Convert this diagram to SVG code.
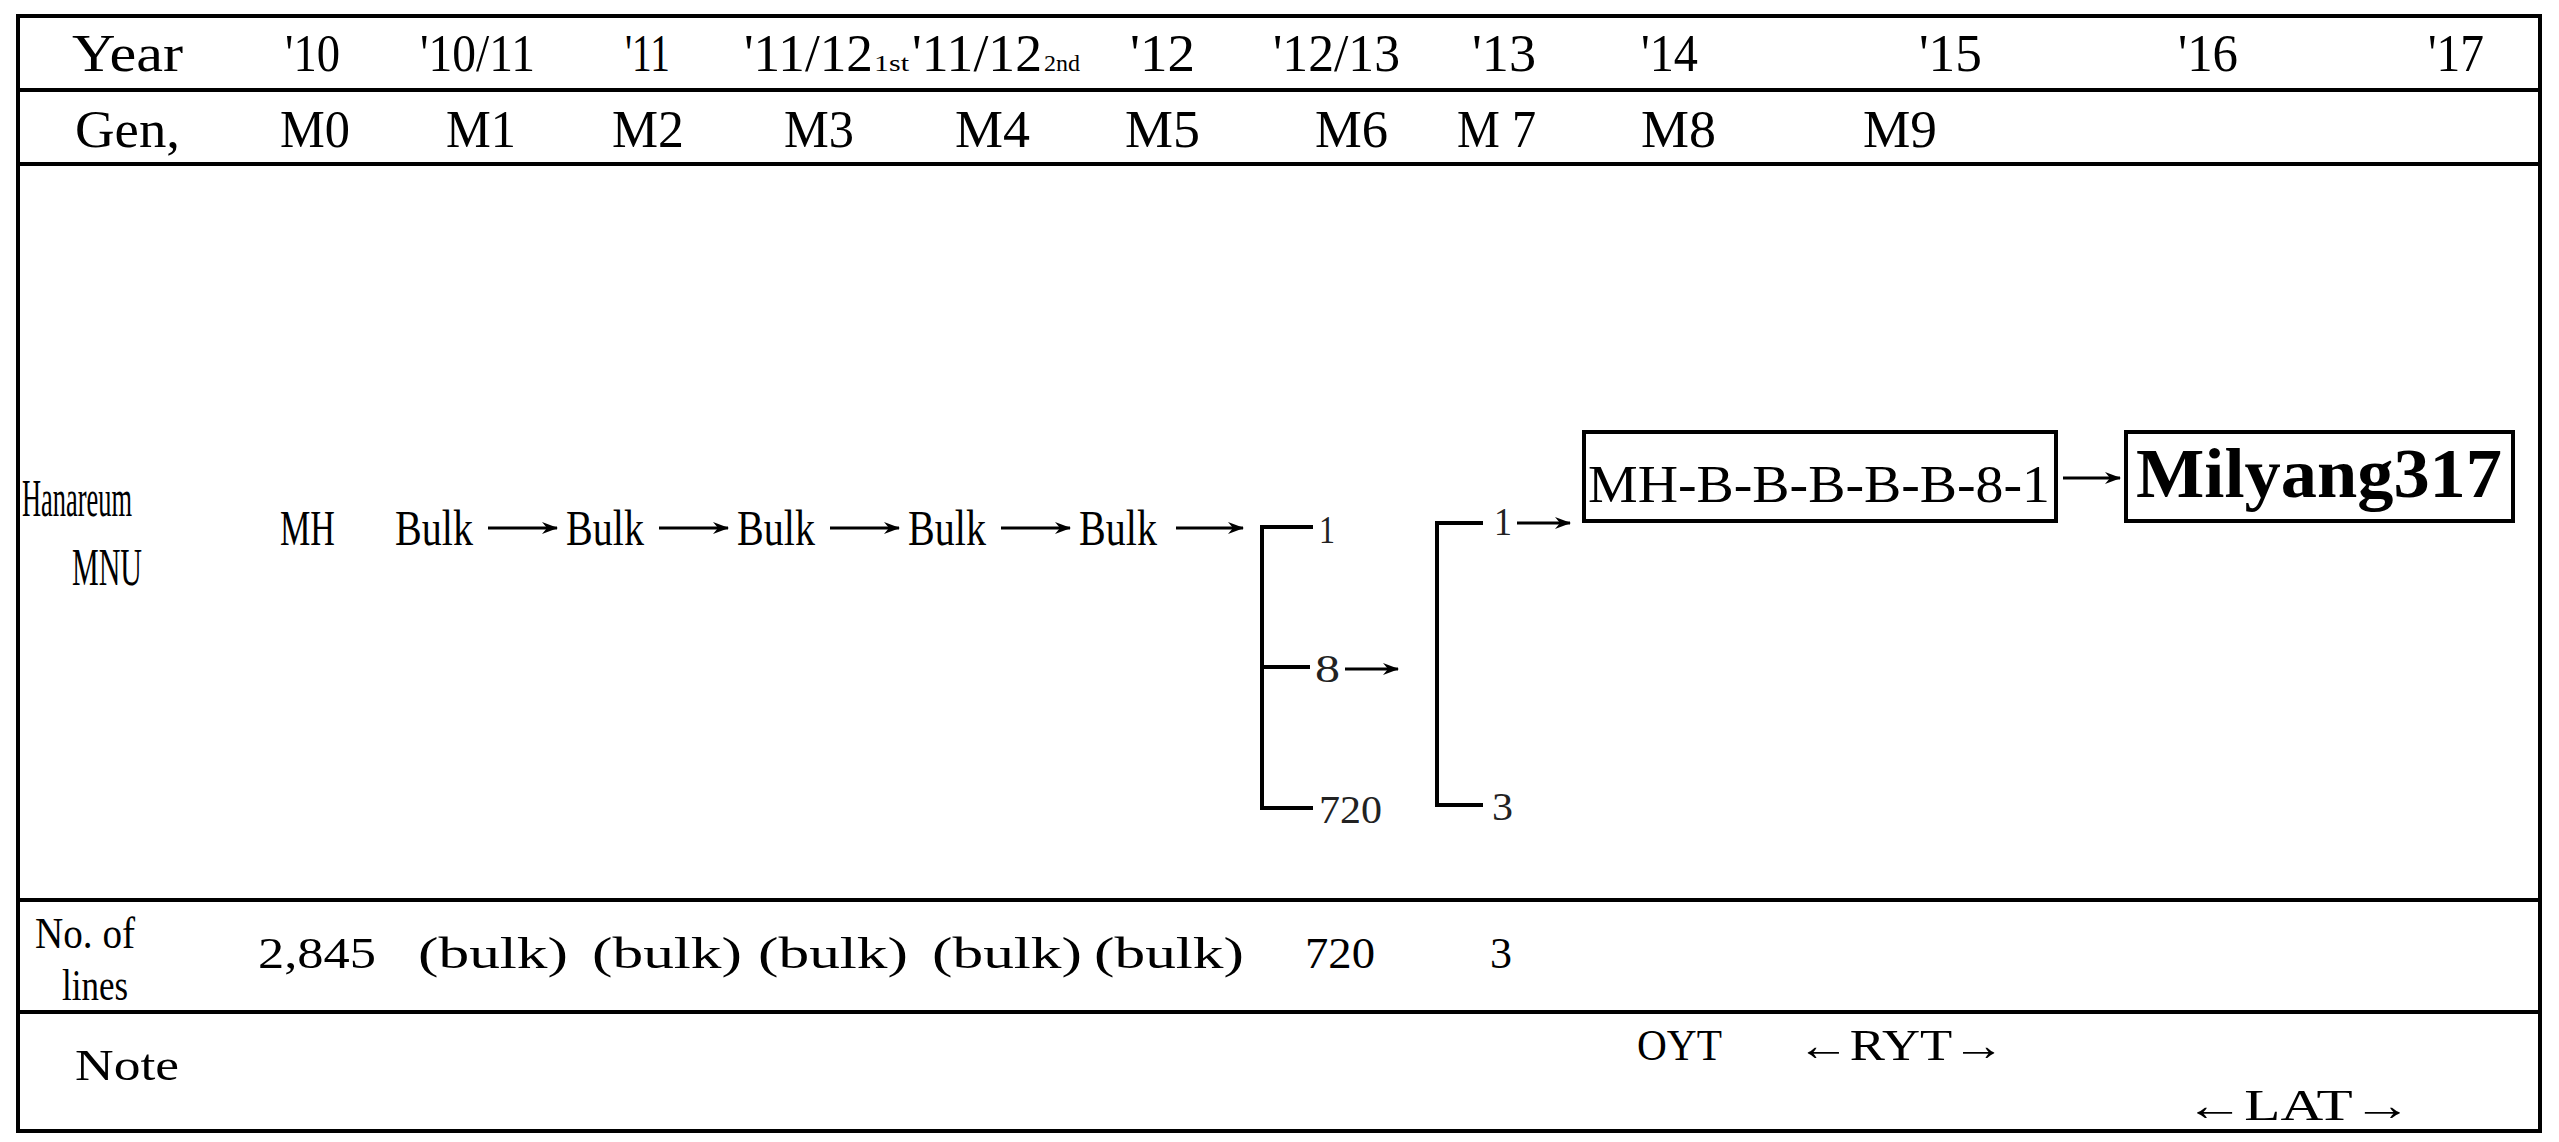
<svg xmlns="http://www.w3.org/2000/svg" width="2559" height="1142" viewBox="0 0 2559 1142">
<style>
.t{font-family:"Liberation Serif","DejaVu Serif",serif;font-size:52px;fill:#000}
.m{font-family:"Liberation Serif","DejaVu Serif",serif;font-size:50px;fill:#000}
.s{font-family:"Liberation Serif","DejaVu Serif",serif;font-size:24px;fill:#000}
.n{font-family:"Liberation Serif","DejaVu Serif",serif;font-size:40px;fill:#222}
.b{font-family:"Liberation Serif","DejaVu Serif",serif;font-size:44px;fill:#000}
.bx{fill:none;stroke:#000;stroke-width:4}
.grid{stroke:#000;stroke-width:4;fill:none}
.c{stroke:#000;stroke-width:3;fill:none}
.br{stroke:#000;stroke-width:4;fill:none}
</style>
<defs>
<marker id="ah" markerUnits="userSpaceOnUse" markerWidth="16" markerHeight="14" refX="15" refY="7" orient="auto">
<path d="M0,1 L16,7 L0,13 L5,7 z" fill="#000"/>
</marker>
</defs>
<rect width="2559" height="1142" fill="#fff"/>
<g id="table">
<rect class="grid" x="18" y="16" width="2522" height="1115"/>
<line class="grid" x1="18" y1="90" x2="2540" y2="90"/>
<line class="grid" x1="18" y1="164" x2="2540" y2="164"/>
<line class="grid" x1="18" y1="900" x2="2540" y2="900"/>
<line class="grid" x1="18" y1="1012" x2="2540" y2="1012"/>
</g>
<g id="row-year">
<text class="t" x="72" y="71" textLength="111" lengthAdjust="spacingAndGlyphs">Year</text>
<text class="t" x="285" y="71" textLength="55" lengthAdjust="spacingAndGlyphs">'10</text>
<text class="t" x="420" y="71" textLength="115" lengthAdjust="spacingAndGlyphs">'10/11</text>
<text class="t" x="625" y="71" textLength="45" lengthAdjust="spacingAndGlyphs">'11</text>
<text class="t" x="744" y="71" textLength="129" lengthAdjust="spacingAndGlyphs">'11/12</text>
<text class="s" x="874" y="71" textLength="35" lengthAdjust="spacingAndGlyphs">1st</text>
<text class="t" x="912" y="71" textLength="130" lengthAdjust="spacingAndGlyphs">'11/12</text>
<text class="s" x="1044" y="71" textLength="36" lengthAdjust="spacingAndGlyphs">2nd</text>
<text class="t" x="1130" y="71" textLength="65" lengthAdjust="spacingAndGlyphs">'12</text>
<text class="t" x="1273" y="71" textLength="127" lengthAdjust="spacingAndGlyphs">'12/13</text>
<text class="t" x="1472" y="71" textLength="64" lengthAdjust="spacingAndGlyphs">'13</text>
<text class="t" x="1641" y="71" textLength="57" lengthAdjust="spacingAndGlyphs">'14</text>
<text class="t" x="1919" y="71" textLength="63" lengthAdjust="spacingAndGlyphs">'15</text>
<text class="t" x="2178" y="71" textLength="60" lengthAdjust="spacingAndGlyphs">'16</text>
<text class="t" x="2428" y="71" textLength="56" lengthAdjust="spacingAndGlyphs">'17</text>
</g>
<g id="row-gen">
<text class="t" x="75" y="147" textLength="105" lengthAdjust="spacingAndGlyphs">Gen,</text>
<text class="t" x="280" y="147" textLength="70" lengthAdjust="spacingAndGlyphs">M0</text>
<text class="t" x="446" y="147" textLength="70" lengthAdjust="spacingAndGlyphs">M1</text>
<text class="t" x="612" y="147" textLength="72" lengthAdjust="spacingAndGlyphs">M2</text>
<text class="t" x="784" y="147" textLength="70" lengthAdjust="spacingAndGlyphs">M3</text>
<text class="t" x="955" y="147" textLength="75" lengthAdjust="spacingAndGlyphs">M4</text>
<text class="t" x="1125" y="147" textLength="75" lengthAdjust="spacingAndGlyphs">M5</text>
<text class="t" x="1315" y="147" textLength="73" lengthAdjust="spacingAndGlyphs">M6</text>
<text class="t" x="1457" y="147" textLength="79" lengthAdjust="spacingAndGlyphs">M 7</text>
<text class="t" x="1641" y="147" textLength="75" lengthAdjust="spacingAndGlyphs">M8</text>
<text class="t" x="1863" y="147" textLength="74" lengthAdjust="spacingAndGlyphs">M9</text>
</g>
<g id="label-hanareum">
<text class="t" x="22" y="516" textLength="110" lengthAdjust="spacingAndGlyphs">Hanareum</text>
<text class="t" x="72" y="585" textLength="70" lengthAdjust="spacingAndGlyphs">MNU</text>
</g>
<g id="node-mh"><text class="m" x="280" y="545" textLength="55" lengthAdjust="spacingAndGlyphs">MH</text></g>
<g id="node-bulk1"><text class="m" x="395" y="545" textLength="78" lengthAdjust="spacingAndGlyphs">Bulk</text></g>
<g id="node-bulk2"><text class="m" x="566" y="545" textLength="78" lengthAdjust="spacingAndGlyphs">Bulk</text></g>
<g id="node-bulk3"><text class="m" x="737" y="545" textLength="78" lengthAdjust="spacingAndGlyphs">Bulk</text></g>
<g id="node-bulk4"><text class="m" x="908" y="545" textLength="78" lengthAdjust="spacingAndGlyphs">Bulk</text></g>
<g id="node-bulk5"><text class="m" x="1079" y="545" textLength="78" lengthAdjust="spacingAndGlyphs">Bulk</text></g>
<g id="node-m6">
<text class="n" x="1319" y="543" textLength="16" lengthAdjust="spacingAndGlyphs">1</text>
<text class="n" x="1315" y="682" textLength="25" lengthAdjust="spacingAndGlyphs">8</text>
<text class="n" x="1319" y="823" textLength="63" lengthAdjust="spacingAndGlyphs">720</text>
</g>
<g id="node-m7">
<text class="n" x="1494" y="535" textLength="18" lengthAdjust="spacingAndGlyphs">1</text>
<text class="n" x="1492" y="820" textLength="21" lengthAdjust="spacingAndGlyphs">3</text>
</g>
<g id="node-line">
<rect class="bx" x="1584" y="432" width="472" height="89"/>
<text class="t" x="1588" y="502" font-size="64" textLength="462" lengthAdjust="spacingAndGlyphs">MH-B-B-B-B-B-8-1</text>
</g>
<g id="node-milyang">
<rect class="bx" x="2126" y="432" width="387" height="89"/>
<text x="2136" y="497" font-family="'Liberation Serif','DejaVu Serif',serif" font-weight="bold" font-size="70" textLength="366" lengthAdjust="spacingAndGlyphs">Milyang317</text>
</g>
<g id="connectors">
<line class="c" x1="488" y1="528" x2="557" y2="528" marker-end="url(#ah)"/>
<line class="c" x1="659" y1="528" x2="728" y2="528" marker-end="url(#ah)"/>
<line class="c" x1="830" y1="528" x2="899" y2="528" marker-end="url(#ah)"/>
<line class="c" x1="1001" y1="528" x2="1070" y2="528" marker-end="url(#ah)"/>
<line class="c" x1="1176" y1="528" x2="1243" y2="528" marker-end="url(#ah)"/>
<path class="br" d="M1313,527 H1262 V808 H1313 M1262,667 H1310"/>
<line class="c" x1="1345" y1="669" x2="1398" y2="669" marker-end="url(#ah)"/>
<path class="br" d="M1483,523 H1437 V805 H1483"/>
<line class="c" x1="1517" y1="523" x2="1570" y2="523" marker-end="url(#ah)"/>
<line class="c" x1="2063" y1="478" x2="2120" y2="478" marker-end="url(#ah)"/>
</g>
<g id="row-lines">
<text class="b" x="35" y="948" font-size="42" textLength="100" lengthAdjust="spacingAndGlyphs">No. of</text>
<text class="b" x="62" y="1000" font-size="42" textLength="66" lengthAdjust="spacingAndGlyphs">lines</text>
<text class="b" x="258" y="968" textLength="118" lengthAdjust="spacingAndGlyphs">2,845</text>
<text class="b" x="418" y="968" textLength="150" lengthAdjust="spacingAndGlyphs">(bulk)</text>
<text class="b" x="592" y="968" textLength="150" lengthAdjust="spacingAndGlyphs">(bulk)</text>
<text class="b" x="758" y="968" textLength="150" lengthAdjust="spacingAndGlyphs">(bulk)</text>
<text class="b" x="932" y="968" textLength="150" lengthAdjust="spacingAndGlyphs">(bulk)</text>
<text class="b" x="1094" y="968" textLength="150" lengthAdjust="spacingAndGlyphs">(bulk)</text>
<text class="b" x="1305" y="968" textLength="70" lengthAdjust="spacingAndGlyphs">720</text>
<text class="b" x="1490" y="968" textLength="22" lengthAdjust="spacingAndGlyphs">3</text>
</g>
<g id="row-note">
<text class="b" x="75" y="1080" textLength="104" lengthAdjust="spacingAndGlyphs">Note</text>
<text class="b" x="1637" y="1060" textLength="85" lengthAdjust="spacingAndGlyphs">OYT</text>
<text class="b" x="1797" y="1060" textLength="208" lengthAdjust="spacingAndGlyphs">←RYT→</text>
<text class="b" x="2185" y="1120" textLength="227" lengthAdjust="spacingAndGlyphs">←LAT→</text>
</g>
</svg>
